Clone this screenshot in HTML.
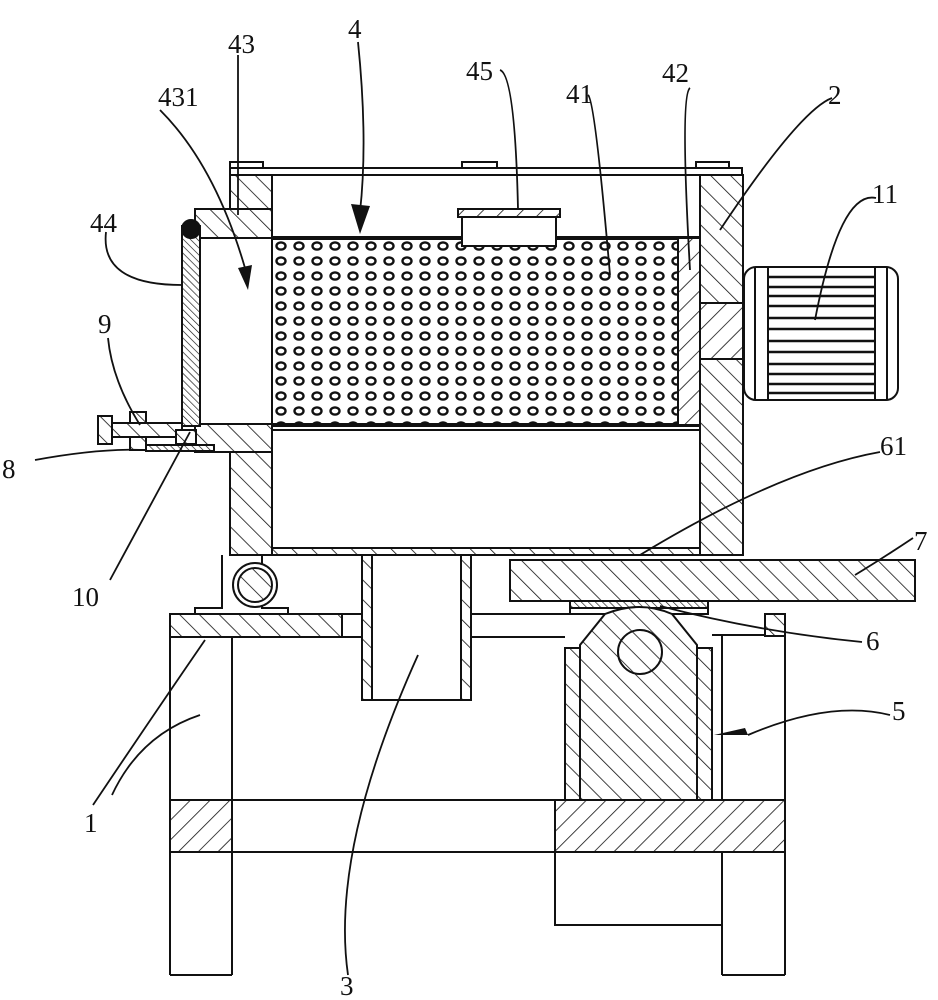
<!DOCTYPE html>
<html><head><meta charset="utf-8"><style>
html,body{margin:0;padding:0;background:#fff}
svg{display:block}
text{font-family:"Liberation Serif",serif;font-size:27px;fill:#111}
</style></head><body>
<svg width="938" height="1000" viewBox="0 0 938 1000" xmlns="http://www.w3.org/2000/svg">
<defs>
<pattern id="h" width="14" height="14" patternUnits="userSpaceOnUse" patternTransform="rotate(45)">
<rect width="14" height="14" fill="#fff"/><line x1="0" y1="0" x2="0" y2="14" stroke="#111" stroke-width="1.6"/></pattern>
<pattern id="h2" width="14" height="14" patternUnits="userSpaceOnUse" patternTransform="rotate(-45)">
<rect width="14" height="14" fill="#fff"/><line x1="0" y1="0" x2="0" y2="14" stroke="#111" stroke-width="1.6"/></pattern>
<pattern id="hf" width="5" height="5" patternUnits="userSpaceOnUse" patternTransform="rotate(-45)">
<rect width="5" height="5" fill="#fff"/><line x1="0" y1="0" x2="0" y2="5" stroke="#111" stroke-width="1.3"/></pattern>
<pattern id="dots" x="272" y="238" width="18" height="15" patternUnits="userSpaceOnUse">
<rect width="18" height="15" fill="#fff"/><ellipse cx="9" cy="8" rx="4.5" ry="3.6" fill="none" stroke="#111" stroke-width="2.4"/></pattern>
</defs>
<g stroke="#111" stroke-width="2" fill="none">
<rect x="230" y="168" width="512" height="7" fill="#fff"/>
<rect x="230" y="162" width="33" height="6"/>
<rect x="462" y="162" width="35" height="6"/>
<rect x="696" y="162" width="33" height="6"/>
<rect x="230" y="175" width="42" height="35" fill="url(#h2)"/>
<rect x="195" y="209" width="77" height="29" fill="url(#h2)"/>
<rect x="195" y="424" width="77" height="28" fill="url(#h2)"/>
<rect x="230" y="452" width="42" height="103" fill="url(#h2)"/>
<rect x="700" y="175" width="43" height="380" fill="url(#h2)"/>
<rect x="700" y="303" width="43" height="56" fill="url(#h)"/>
<rect x="272" y="548" width="428" height="7" fill="url(#h2)"/>
<rect x="272" y="238" width="406" height="187" fill="url(#dots)"/>
<line x1="272" y1="238" x2="700" y2="238" stroke-width="4"/>
<line x1="272" y1="425" x2="700" y2="425" stroke-width="4"/>
<rect x="678" y="238" width="22" height="187" fill="url(#h)"/>
<line x1="272" y1="430" x2="700" y2="430"/>
<rect x="458" y="209" width="102" height="8" fill="url(#h)"/>
<rect x="462" y="217" width="94" height="29" fill="#fff"/>
<rect x="744" y="267" width="154" height="133" rx="12" fill="#fff"/>
<line x1="755" y1="267" x2="755" y2="400"/>
<line x1="768" y1="267" x2="768" y2="400"/>
<line x1="875" y1="267" x2="875" y2="400"/>
<line x1="887" y1="267" x2="887" y2="400"/>
<g stroke-width="2.6">
<line x1="768" y1="277" x2="875" y2="277"/><line x1="768" y1="287" x2="875" y2="287"/><line x1="768" y1="296" x2="875" y2="296"/><line x1="768" y1="306" x2="875" y2="306"/><line x1="768" y1="318" x2="875" y2="318"/><line x1="768" y1="329" x2="875" y2="329"/><line x1="768" y1="341" x2="875" y2="341"/><line x1="768" y1="352" x2="875" y2="352"/><line x1="768" y1="364" x2="875" y2="364"/><line x1="768" y1="374" x2="875" y2="374"/><line x1="768" y1="384" x2="875" y2="384"/><line x1="768" y1="393" x2="875" y2="393"/></g>
<rect x="182" y="226" width="18" height="200" fill="url(#hf)"/>
<circle cx="191" cy="229" r="9" fill="#111"/>
<rect x="98" y="416" width="14" height="28" fill="url(#h2)"/>
<rect x="112" y="423" width="70" height="14" fill="url(#h2)"/>
<rect x="130" y="412" width="16" height="11" fill="url(#h2)"/>
<rect x="130" y="437" width="16" height="13" fill="url(#h2)"/>
<rect x="146" y="445" width="68" height="6" fill="url(#hf)"/>
<rect x="176" y="430" width="20" height="14" fill="url(#h2)"/>
<rect x="362" y="555" width="10" height="145" fill="url(#h2)"/>
<rect x="461" y="555" width="10" height="145" fill="url(#h2)"/>
<line x1="362" y1="700" x2="471" y2="700"/>
<path d="M222 555 L222 608 L195 608 L195 614 M288 614 L288 608 L262 608 L262 555" />
<circle cx="255" cy="585" r="22" fill="#fff"/>
<circle cx="255" cy="585" r="17" fill="url(#h2)"/>
<rect x="170" y="614" width="172" height="23" fill="url(#h2)"/>
<line x1="342" y1="614" x2="362" y2="614"/><line x1="342" y1="637" x2="362" y2="637"/>
<line x1="471" y1="614" x2="570" y2="614"/><line x1="471" y1="637" x2="565" y2="637"/>
<line x1="170" y1="637" x2="170" y2="975"/><line x1="232" y1="637" x2="232" y2="975"/>
<line x1="170" y1="975" x2="232" y2="975"/>
<rect x="510" y="560" width="405" height="41" fill="url(#h2)"/>
<rect x="570" y="601" width="138" height="7" fill="url(#hf)"/>
<rect x="570" y="608" width="138" height="6"/>
<rect x="565" y="648" width="15" height="152" fill="url(#h2)"/>
<rect x="697" y="648" width="15" height="152" fill="url(#h2)"/>
<path d="M580 800 L580 645 L605 614 Q640 600 672 614 L697 645 L697 800 Z" fill="url(#h2)"/>
<circle cx="640" cy="652" r="22" fill="url(#h2)"/>
<line x1="712" y1="635" x2="765" y2="635"/>
<rect x="765" y="614" width="20" height="22" fill="url(#h2)"/>
<line x1="722" y1="636" x2="722" y2="975"/><line x1="785" y1="636" x2="785" y2="975"/>
<line x1="722" y1="975" x2="785" y2="975"/>
<rect x="170" y="800" width="62" height="52" fill="url(#h)"/>
<line x1="232" y1="800" x2="555" y2="800"/><line x1="232" y1="852" x2="555" y2="852"/>
<rect x="555" y="800" width="230" height="52" fill="url(#h)"/>
<rect x="555" y="852" width="167" height="73"/>
</g>
<g stroke="#111" stroke-width="1.8" fill="none">
<path d="M238 55 L238 215"/>
<path d="M358 42 Q368 140 360 212"/>
<path d="M160 110 Q215 165 245 268"/>
<path d="M106 232 Q100 285 182 285"/>
<path d="M500 70 Q515 75 518 209"/>
<path d="M588 95 Q595 100 610 275"/>
<path d="M690 88 Q680 95 690 270"/>
<path d="M832 98 Q800 110 720 230"/>
<path d="M876 198 Q840 190 815 320"/>
<path d="M108 338 Q112 380 140 425"/>
<path d="M35 460 Q100 448 146 450"/>
<path d="M110 580 L190 432"/>
<path d="M880 452 Q780 470 640 555"/>
<path d="M913 538 Q880 560 855 575"/>
<path d="M862 642 Q760 632 660 606"/>
<path d="M890 715 Q830 700 748 735"/>
<path d="M93 805 Q150 720 205 640"/>
<path d="M112 795 Q140 735 200 715"/>
<path d="M348 975 Q330 850 418 655"/>
</g>
<path d="M748 735 L714 735 L745 728 Z" fill="#111"/>
<path d="M360 234 L351 204 L370 206 Z" fill="#111"/>
<path d="M248 290 L238 268 L252 265 Z" fill="#111"/>
<text x="228" y="53">43</text>
<text x="348" y="38">4</text>
<text x="158" y="106">431</text>
<text x="466" y="80">45</text>
<text x="566" y="103">41</text>
<text x="662" y="82">42</text>
<text x="828" y="104">2</text>
<text x="872" y="203">11</text>
<text x="90" y="232">44</text>
<text x="98" y="333">9</text>
<text x="2" y="478">8</text>
<text x="72" y="606">10</text>
<text x="880" y="455">61</text>
<text x="914" y="550">7</text>
<text x="866" y="650">6</text>
<text x="892" y="720">5</text>
<text x="84" y="832">1</text>
<text x="340" y="995">3</text>
</svg>
</body></html>
